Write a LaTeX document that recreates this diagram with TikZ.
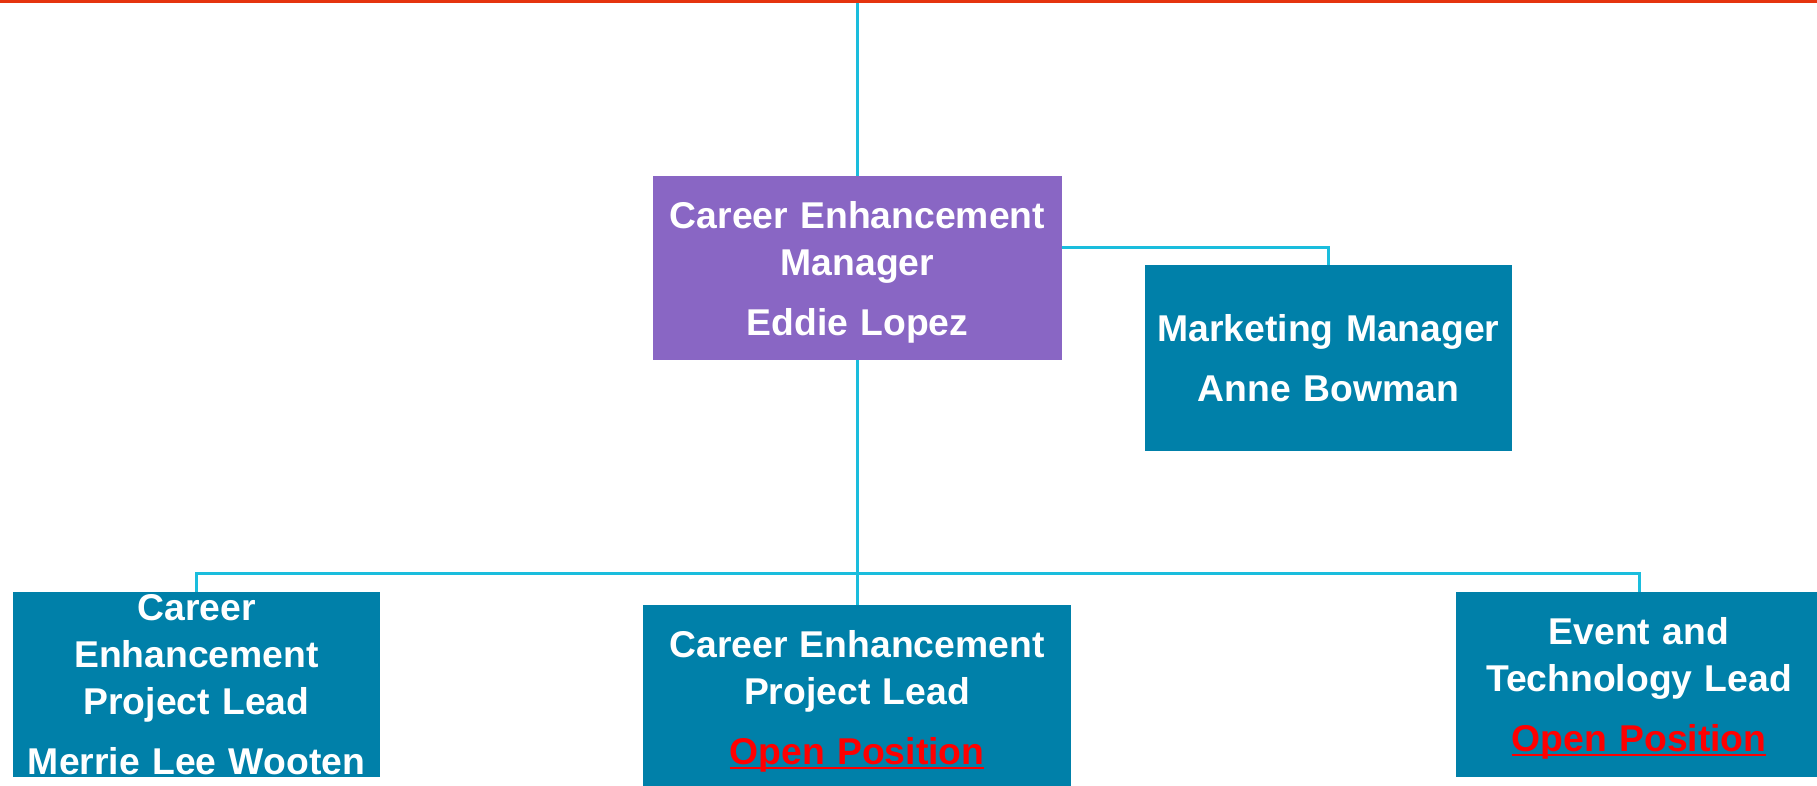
\documentclass[tikz,border=0pt]{standalone}
\usepackage{fontspec}
\setmainfont{Liberation Sans}
\definecolor{boxteal}{HTML}{0080A9}
\definecolor{boxpurple}{HTML}{8966C4}
\definecolor{linecyan}{HTML}{1ABDDD}
\definecolor{topred}{HTML}{E5340F}
\definecolor{openred}{HTML}{FF0000}
\newcommand\myul[1]{\setbox0\hbox{#1}\rlap{\rule[-2.3pt]{\wd0}{1.2pt}}\box0}
\newcommand\nodp[1]{\raisebox{0pt}[\height][0pt]{#1}}
\newcommand\openpos{\nodp{\textcolor{openred}{\myul{Open Position}}}}
\begin{document}
\begin{tikzpicture}[x=0.5pt,y=-0.5pt,
  orgbox/.style={fill=boxteal, text=white, inner sep=0pt, align=center,
    font=\bfseries\fontsize{18.65}{23.5}\selectfont, minimum height=92.5pt},
  link/.style={draw=linecyan, line width=1.5pt}]
\useasboundingbox (0,0) rectangle (1817,786);
\fill[white] (0,0) rectangle (1817,786);

\node[orgbox, fill=boxpurple, text width=204.5pt, minimum height=92pt] (mgr) at (857.5,268)
  {Career Enhancement\\Manager\\[6.5pt]\nodp{Eddie Lopez}};
\node[orgbox, text width=183.5pt, minimum height=93pt] (mkt) at (1328.5,358)
  {Marketing Manager\\[6.5pt]\nodp{Anne Bowman}};
\node[orgbox, text width=183.5pt] (l) at (196.5,684.5)
  {Career\\Enhancement\\Project Lead\\[6.5pt]\nodp{Merrie Lee Wooten}};
\node[orgbox, text width=214pt] (m) at (857,697.5)
  {Career Enhancement\\Project Lead\\[6.5pt]\openpos};
\node[orgbox, text width=183pt] (r) at (1639,684.5)
  {Event and\\Technology Lead\\[6.5pt]\openpos};

\coordinate (topend) at (856,3);
\coordinate (bus) at (855,573);
\draw[link] (mgr.north) -- (mgr.north |- topend);
\draw[link] ([yshift=10pt]mgr.east) -| (mkt.north);
\draw[link] (mgr.south) -- (mgr.south |- bus);
\draw[link] (l.north) |- (bus) -| (r.north);
\draw[link] (m.north) -- (m.north |- bus);

\fill[topred] (0,0) rectangle (1817,3);
\end{tikzpicture}
\end{document}
